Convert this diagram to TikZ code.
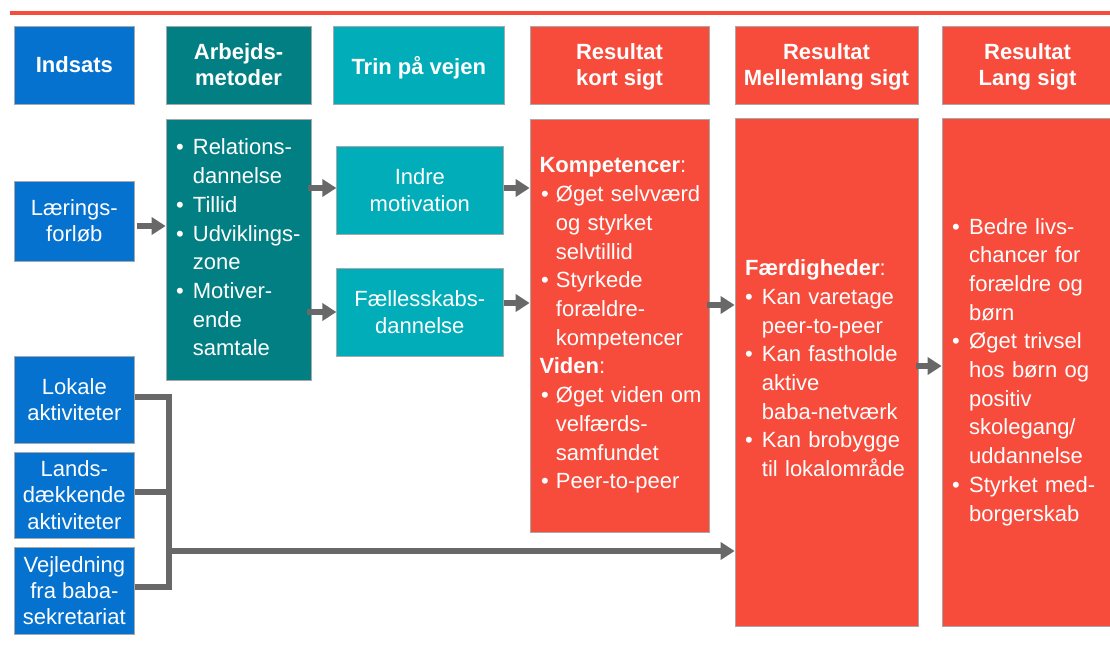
\documentclass[tikz,border=0pt]{standalone}
\usepackage{fontspec}
\setmainfont{Liberation Sans}
\usetikzlibrary{arrows.meta}
\definecolor{cblue}{HTML}{0672CF}
\definecolor{cdteal}{HTML}{027F82}
\definecolor{cteal}{HTML}{00ADB8}
\definecolor{cred}{HTML}{F74C3C}
\definecolor{cgray}{HTML}{686868}
\definecolor{cedge}{HTML}{A8A8A8}
\newcommand\myb[2]{\makebox[#2][l]{\hspace*{#1}•}}
\newcommand\myc[1]{\hspace*{#1}}
\newcommand\nodp[1]{\raisebox{0pt}[\height][0pt]{#1}}
\begin{document}
\begin{tikzpicture}[x=1pt,y=-1pt,
  box/.style={draw=cedge, line width=0.7pt, inner sep=0pt, text=white, align=center,
    font=\fontsize{22}{26.3}\selectfont},
  hbox/.style={box, minimum height=78pt, font=\fontsize{22}{26}\selectfont\bfseries},
  txt/.style={inner sep=0pt, anchor=base west, align=left, text=white,
    font=\fontsize{22}{28.7}\selectfont},
  arr/.style={draw=cgray, line width=6.5pt, -{Triangle[width=17pt,length=14pt]}},
  conn/.style={draw=cgray, line width=5.5pt}]
\useasboundingbox (0,0) rectangle (1110,647);
\coordinate (rl) at (10,13);
\coordinate (rr) at (1110,13);
\draw[cred, line width=4pt] (rl) -- (rr);
% headers
\node[hbox, fill=cblue, minimum width=120.7pt] (h1) at (74.35,65) {Indsats};
\node[hbox, fill=cdteal, minimum width=145pt] (h2) at (238.5,65) {Arbejds-\\metoder};
\node[hbox, fill=cteal, minimum width=170.5pt] (h3) at (418.75,65) {\nodp{Trin på vejen}};
\node[hbox, fill=cred, minimum width=179pt] (h4) at (619.5,65) {Resultat\\\nodp{kort sigt}};
\node[hbox, fill=cred, minimum width=183pt] (h5) at (826.5,65) {Resultat\\\nodp{Mellemlang sigt}};
\node[hbox, fill=cred, minimum width=171pt] (h6) at (1027.5,65) {Resultat\\\nodp{Lang sigt}};
% body boxes
\node[box, fill=cblue, minimum width=120.7pt, minimum height=80pt] (b1) at (74.35,221) {Lærings-\\forløb};
\node[box, fill=cdteal, minimum width=145pt, minimum height=261pt] (b2) at (238.5,249.5) {};
\node[box, fill=cteal, minimum width=166.3pt, minimum height=88pt] (b3) at (419.85,190) {Indre\\motivation};
\node[box, fill=cteal, minimum width=166.3pt, minimum height=88pt] (b4) at (419.85,312) {Fællesskabs-\\dannelse};
\node[box, fill=cred, minimum width=179pt, minimum height=413pt] (b5) at (619.5,325.5) {};
\node[box, fill=cred, minimum width=183pt, minimum height=508.5pt] (b6) at (826.5,372.25) {};
\node[box, fill=cred, minimum width=171pt, minimum height=508.5pt] (b7) at (1027.5,372.25) {};
\node[box, fill=cblue, minimum width=120.7pt, minimum height=87pt] (b8) at (74.35,399.5) {Lokale\\aktiviteter};
\node[box, fill=cblue, minimum width=120.7pt, minimum height=86pt] (b9) at (74.35,495) {Lands-\\dækkende\\aktiviteter};
\node[box, fill=cblue, minimum width=120.7pt, minimum height=87pt] (b10) at (74.35,590.5) {Vejledning\\fra baba-\\sekretariat};
% bullet texts
\node[txt, text width=140pt] (t2) at (176,155) {\myb{0pt}{16.7pt}Relations-\\
\myc{16.7pt}dannelse\\
\myb{0pt}{16.7pt}Tillid\\
\myb{0pt}{16.7pt}Udviklings-\\
\myc{16.7pt}zone\\
\myb{0pt}{16.7pt}Motiver-\\
\myc{16.7pt}ende\\
\myc{16.7pt}samtale};
\node[txt, text width=175pt] (t5) at (539.3,173) {\textbf{Kompetencer}:\\
\myb{1.7pt}{16.4pt}Øget selvværd\\
\myc{16.4pt}og styrket\\
\myc{16.4pt}selvtillid\\
\myb{1.7pt}{16.4pt}Styrkede\\
\myc{16.4pt}forældre-\\
\myc{16.4pt}kompetencer\\
\textbf{Viden}:\\
\myb{1.7pt}{16.4pt}Øget viden om\\
\myc{16.4pt}velfærds-\\
\myc{16.4pt}samfundet\\
\myb{1.7pt}{16.4pt}Peer-to-peer};
\node[txt, text width=175pt] (t6) at (745,275.7) {\textbf{Færdigheder}:\\
\myb{0pt}{16.7pt}Kan varetage\\
\myc{16.7pt}peer-to-peer\\
\myb{0pt}{16.7pt}Kan fastholde\\
\myc{16.7pt}aktive\\
\myc{16.7pt}baba-netværk\\
\myb{0pt}{16.7pt}Kan brobygge\\
\myc{16.7pt}til lokalområde};
\node[txt, text width=160pt] (t7) at (951.8,234) {\myb{0pt}{17.2pt}Bedre livs-\\
\myc{17.2pt}chancer for\\
\myc{17.2pt}forældre og\\
\myc{17.2pt}børn\\
\myb{0pt}{17.2pt}Øget trivsel\\
\myc{17.2pt}hos børn og\\
\myc{17.2pt}positiv\\
\myc{17.2pt}skolegang/\\
\myc{17.2pt}uddannelse\\
\myb{0pt}{17.2pt}Styrket med-\\
\myc{17.2pt}borgerskab};
% arrows
\draw[arr] ([xshift=1.5pt,yshift=-5pt]b1.east) -- ([yshift=-5pt]b1.east -| b2.west);
\draw[arr] ([xshift=-3pt,yshift=2pt]b3.west -| b2.east) -- ([yshift=2pt]b3.west);
\draw[arr] ([xshift=-4pt]b4.west -| b2.east) -- (b4.west);
\draw[arr] ([xshift=1pt,yshift=2pt]b3.east) -- ([yshift=2pt]b3.east -| b5.west);
\draw[arr] ([xshift=1pt,yshift=9pt]b4.east) -- ([yshift=9pt]b4.east -| b5.west);
\draw[arr] ([xshift=-2pt,yshift=20.5pt]b5.east) -- ([yshift=20.5pt]b5.east -| b6.west);
\draw[arr] ([xshift=-2pt,yshift=6.25pt]b6.east) -- ([yshift=6.25pt]b6.east -| b7.west);
% connectors from left boxes
\coordinate (jt) at (169,397);
\coordinate (jb) at (169,587);
\coordinate (jm) at (169,551);
\draw[conn, line join=miter] ([yshift=2.5pt]b8.east) -- (jt) -- (jb) -- ([yshift=3.5pt]b10.east);
\draw[conn] ([yshift=3pt]b9.east) -- ([yshift=3pt]b9.east -| jt);
\draw[arr, line width=6pt] ([xshift=-2.75pt]jm) -- (jm -| b6.west);
\end{tikzpicture}
\end{document}
